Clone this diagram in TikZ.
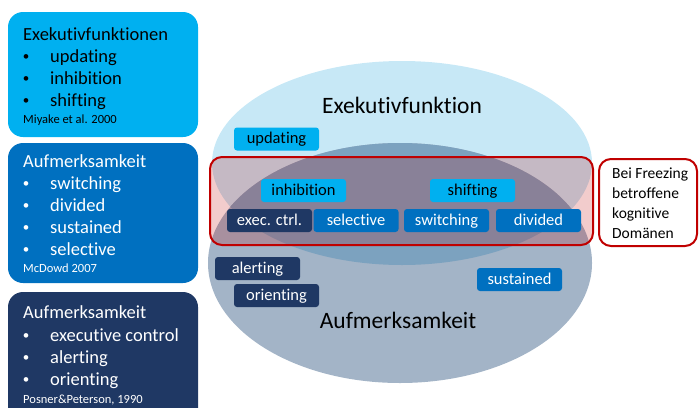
\documentclass[tikz,border=0pt]{standalone}
\usepackage{fontspec}
\setmainfont[Ligatures=NoCommon]{Carlito}
\definecolor{skyA}{HTML}{00B0F0}
\definecolor{midB}{HTML}{0070C0}
\definecolor{navyC}{HTML}{1F3864}
\definecolor{execfill}{HTML}{C7E8F6}
\definecolor{attnfill}{HTML}{A3B4C7}
\definecolor{bothfill}{HTML}{7CA2BF}
\definecolor{alarm}{HTML}{C00000}
\begin{document}
\begin{tikzpicture}[x=1pt,y=-1pt,
  panel/.style={rounded corners=15pt},
  tag/.style={rounded corners=3pt, minimum width=85pt, minimum height=23pt,
    inner sep=0pt, text height=12pt, text depth=2.5pt,
    font=\fontsize{16.5}{19}\selectfont},
  listline/.style={anchor=base west, inner sep=0pt, font=\fontsize{18.5}{22}\selectfont},
  bul/.style={anchor=base, inner sep=0pt, font=\fontsize{13}{15}\selectfont},
  cite/.style={anchor=base west, inner sep=0pt, font=\fontsize{12.5}{15}\selectfont},
  big/.style={anchor=base, inner sep=0pt, font=\fontsize{23.5}{28}\selectfont}]
\useasboundingbox (0,0) rectangle (700,407);
\clip (0,0) rectangle (700,407);

% --- left-hand panels (positions are baselines) ---
\fill[skyA, panel] (8,12) rectangle (198,137);
\node[listline] (p1h) at (23,40) {Exekutivfunktionen};
\foreach \y/\t [count=\i] in {62/updating,84/inhibition,106/shifting}{
  \node[bul] (p1b\i) at (26,\y-2) {•};
  \node[listline] (p1t\i) at (50,\y) {\t};
}
\node[cite] (p1c) at (23,123) {Miyake et al. 2000};

\fill[midB, panel] (8,143) rectangle (198,283);
\begin{scope}[text=white]
\node[listline] (p2h) at (23,167) {Aufmerksamkeit};
\foreach \y/\t [count=\i] in {189/switching,211/divided,233/sustained,255/selective}{
  \node[bul] (p2b\i) at (26,\y-2) {•};
  \node[listline] (p2t\i) at (50,\y) {\t};
}
\node[cite] (p2c) at (23,272) {McDowd 2007};
\end{scope}

\fill[navyC, panel] (8,292) rectangle (198,425);
\begin{scope}[text=white]
\node[listline] (p3h) at (23,318) {Aufmerksamkeit};
\foreach \y/\t [count=\i] in {341/executive control,363/alerting,385/orienting}{
  \node[bul] (p3b\i) at (26,\y-2) {•};
  \node[listline] (p3t\i) at (50,\y) {\t};
}
\node[cite] (p3c) at (23,403) {Posner\&Peterson, 1990};
\end{scope}

% --- overlapping domains ---
\fill[execfill] (402,163) ellipse [x radius=190pt, y radius=102pt];
\fill[attnfill] (400,263) ellipse [x radius=192pt, y radius=120pt];
\begin{scope}
  \clip (402,163) ellipse [x radius=190pt, y radius=102pt];
  \fill[bothfill] (400,263) ellipse [x radius=192pt, y radius=120pt];
\end{scope}

\node[big] (exlabel) at (402,113) {Exekutivfunktion};
\node[big] (atlabel) at (398,328) {Aufmerksamkeit};

% --- domains affected by freezing ---
\fill[alarm, fill opacity=0.2, rounded corners=12pt] (210,157) rectangle (593,245);

\node[tag, fill=skyA] (upd) at (276.5,139) {updating};
\node[tag, fill=skyA] (inh) at (303.5,190.5) {inhibition};
\node[tag, fill=skyA] (shi) at (472.5,190.5) {shifting};
\node[tag, fill=navyC, text=white] (exc) at (269.5,220.5) {exec. ctrl.};
\node[tag, fill=midB, text=white] (sel) at (356,220.5) {selective};
\node[tag, fill=midB, text=white] (swi) at (446.5,220.5) {switching};
\node[tag, fill=midB, text=white] (div) at (538.5,220.5) {divided};
\node[tag, fill=midB, text=white] (sus) at (519.5,279.5) {sustained};
\node[tag, fill=navyC, text=white] (ale) at (257.5,268.5) {alerting};
\node[tag, fill=navyC, text=white] (ori) at (276.5,295.5) {orienting};

\draw[alarm, line width=2pt, rounded corners=12pt] (210,157) rectangle (593,245);

\draw[alarm, line width=2pt, fill=white, rounded corners=12pt] (599,159) rectangle (697,246);
\node[anchor=west, align=left, inner sep=0pt, font=\fontsize{15.5}{20}\selectfont] (note) at (612,203)
  {Bei Freezing\\betroffene\\kognitive\\Domänen};
\end{tikzpicture}
\end{document}
